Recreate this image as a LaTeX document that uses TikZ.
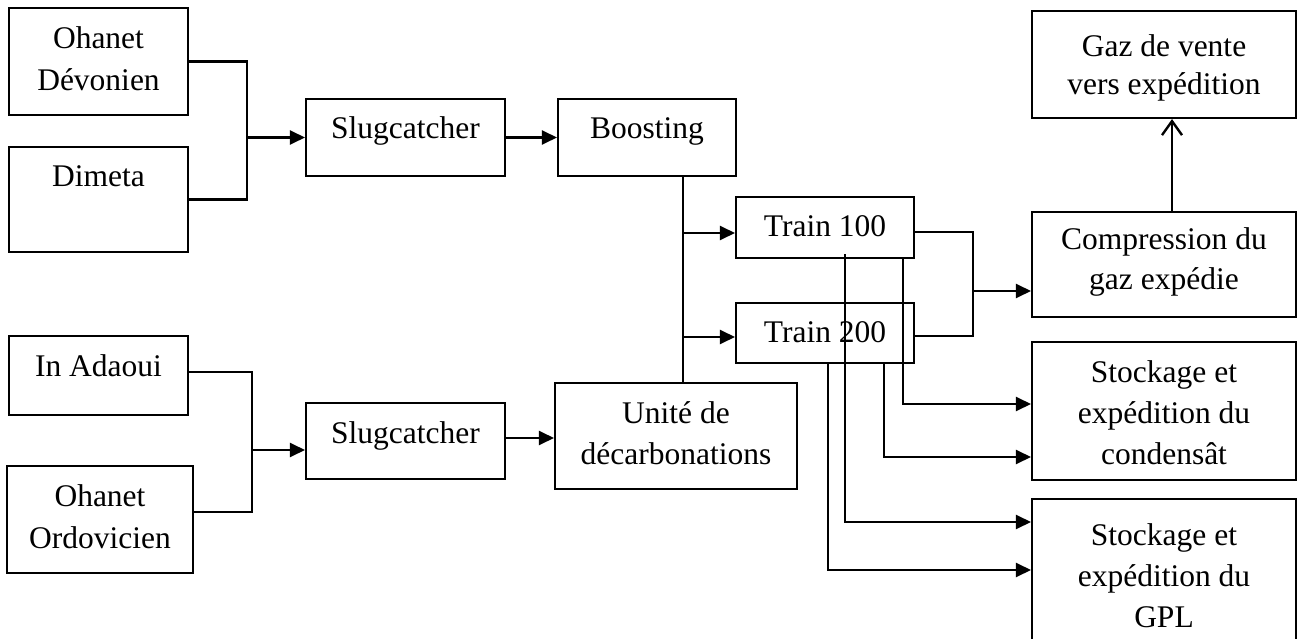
\documentclass[tikz,border=0pt]{standalone}
\usepackage{fontspec}
\setmainfont{Liberation Serif}
\usetikzlibrary{arrows.meta,fit}
% centred block text, first baseline at the node's base anchor
\newcommand\boxtext[2]{{\fontsize{31.5}{#1}\selectfont\begin{tabular}[t]{@{}c@{}}#2\end{tabular}}}
\begin{document}
\begin{tikzpicture}[x=1pt,y=-1pt,
  blk/.style={draw, line width=2.1pt, inner sep=0pt},
  lbl/.style={anchor=base, inner sep=0pt},
  flow/.style={line width=2.4pt},
  arr/.style={flow, -{Triangle[length=15pt,width=14pt]}},
  openarr/.style={flow, -{Straight Barb[length=14pt,width=20pt,line width=2.4pt]}}]
\useasboundingbox (0,0) rectangle (1302,639);
\fill[white] (0,0) rectangle (1302,639);
\clip (0,0) rectangle (1302,639);

% blocks
\node[blk, fit={(9,8) (188,115)}] (dev) {};
\node[blk, fit={(9,147) (188,252)}] (dim) {};
\node[blk, fit={(306,99) (505,176)}] (sl1) {};
\node[blk, fit={(558,99) (736,176)}] (boost) {};
\node[blk, fit={(736,197) (914,258)}] (t100) {};
\node[blk, fit={(736,303) (914,363)}] (t200) {};
\node[blk, fit={(9,336) (188,415)}] (ada) {};
\node[blk, fit={(7,466) (193,573)}] (ord) {};
\node[blk, fit={(306,403) (505,479)}] (sl2) {};
\node[blk, fit={(555,383) (797,489)}] (unit) {};
\node[blk, fit={(1032,11) (1296,118)}] (gaz) {};
\node[blk, fit={(1032,212) (1296,317)}] (comp) {};
\node[blk, fit={(1032,342) (1296,480)}] (cond) {};
\node[blk, fit={(1032,499) (1296,680)}] (gpl) {};

% block texts
\node[lbl] (dev-t) at (98.5,49) {\boxtext{42}{Ohanet\\Dévonien}};
\node[lbl] (dim-t) at (98.5,187) {\boxtext{42}{Dimeta}};
\node[lbl] (sl1-t) at (405.5,139) {\boxtext{42}{Slugcatcher}};
\node[lbl] (boost-t) at (647,139) {\boxtext{42}{Boosting}};
\node[lbl] (t100-t) at (825,237) {\boxtext{42}{Train 100}};
\node[lbl] (t200-t) at (825,342) {\boxtext{42}{Train 200}};
\node[lbl] (ada-t) at (98.5,376) {\boxtext{42}{In Adaoui}};
\node[lbl] (ord-t) at (100,506) {\boxtext{42}{Ohanet\\Ordovicien}};
\node[lbl] (sl2-t) at (405.5,443) {\boxtext{42}{Slugcatcher}};
\node[lbl] (unit-t) at (676,423) {\boxtext{41}{Unité de\\décarbonations}};
\node[lbl] (gaz-t) at (1164,57) {\boxtext{37.5}{Gaz de vente\\vers expédition}};
\node[lbl] (comp-t) at (1164,250) {\boxtext{40}{Compression du\\gaz expédie}};
\node[lbl] (cond-t) at (1164,382) {\boxtext{41}{Stockage et\\expédition du\\condensât}};
\node[lbl] (gpl-t) at (1164,545) {\boxtext{41}{Stockage et\\expédition du\\GPL}};

% upper feed
\coordinate (j1) at (247,137.5);
\draw[flow] (dev.east) -| (j1) |- (dim.east);
\draw[arr] (j1) -- (sl1.west);
\draw[arr] (sl1.east) -- (boost.west);

% lower feed
\coordinate (j3) at (252,450);
\coordinate (aR) at (193,372);
\coordinate (oR) at (193,512);
\draw[flow] (ada.east |- aR) -| (j3) |- (ord.east |- oR);
\draw[arr] (j3) -- (j3 -| sl2.west);
\coordinate (m) at (530,438);
\draw[arr] (m -| sl2.east) -- (m -| unit.west);

% common header to the trains
\coordinate (stem) at (683,0);
\draw[flow] (boost.south -| stem) -- (unit.north -| stem);
\coordinate (b1) at (683,233);
\coordinate (b2) at (683,337);
\draw[arr] (b1) -- (b1 -| t100.west);
\draw[arr] (b2) -- (b2 -| t200.west);

% gas to compression
\coordinate (r1) at (973,232);
\coordinate (r2) at (973,336);
\coordinate (j2) at (973,291);
\draw[flow] (r1 -| t100.east) -- (r1) -- (r2) -- (r2 -| t200.east);
\draw[arr] (j2) -- (j2 -| comp.west);
\coordinate (u) at (1172,0);
\draw[openarr] (comp.north -| u) -- (gaz.south -| u);

% liquid products
\coordinate (d1) at (903,404);
\coordinate (d2) at (884,457);
\coordinate (d3) at (845,522);
\coordinate (d4) at (828,570);
\draw[arr] (d1 |- t100.south) -- (d1) -- (d1 -| cond.west);
\draw[arr] (d2 |- t200.south) -- (d2) -- (d2 -| cond.west);
\draw[arr] ([yshift=5pt]d3 |- t100.south) -- (d3) -- (d3 -| gpl.west);
\draw[arr] (d4 |- t200.south) -- (d4) -- (d4 -| gpl.west);
\end{tikzpicture}
\end{document}
